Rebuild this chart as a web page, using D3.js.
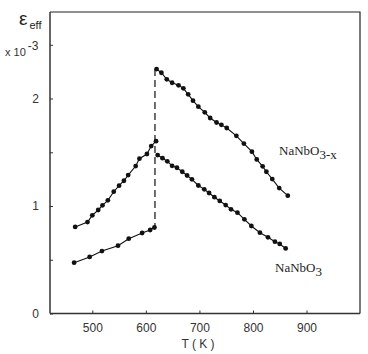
<!DOCTYPE html>
<html>
<head>
<meta charset="utf-8">
<script src="https://cdn.jsdelivr.net/npm/d3@7"></script>
<style>
  body { margin: 0; background: #fff; }
  svg { display: block; }
</style>
</head>
<body>
<svg id="chart" width="368" height="354"></svg>
<script>
// NaNbO3-x, below the transition
var oxRiseT = [468, 491, 500, 511, 519, 529, 540, 550, 559, 567, 581, 588, 602, 610, 619];
var oxRiseE = [0.805, 0.851, 0.913, 0.963, 1.006, 1.053, 1.133, 1.189, 1.235, 1.288, 1.372, 1.440, 1.484, 1.558, 1.603];
// NaNbO3-x, above the transition
var oxFallT = [620, 629, 639, 649, 661, 670, 679, 688, 698, 710, 720, 732, 741, 751, 769, 783, 798, 807, 818, 825, 836, 849, 865];
var oxFallE = [2.274, 2.240, 2.179, 2.147, 2.123, 2.095, 2.039, 1.980, 1.924, 1.872, 1.819, 1.777, 1.755, 1.726, 1.653, 1.581, 1.506, 1.433, 1.369, 1.319, 1.251, 1.167, 1.096];
// NaNbO3, below the transition
var stRiseT = [466, 495, 518, 548, 568, 593, 608, 616];
var stRiseE = [0.473, 0.526, 0.581, 0.631, 0.696, 0.749, 0.777, 0.800];
// NaNbO3, above the transition
var stFallT = [622, 631, 640, 649, 658, 668, 677, 686, 698, 709, 718, 728, 738, 749, 759, 771, 784, 797, 813, 828, 841, 850, 861];
var stFallE = [1.474, 1.445, 1.416, 1.374, 1.356, 1.319, 1.284, 1.248, 1.191, 1.155, 1.121, 1.082, 1.047, 1.009, 0.969, 0.938, 0.876, 0.814, 0.752, 0.709, 0.668, 0.647, 0.605];

var transitionT = 617;
var xTicks = [500, 600, 700, 800, 900];
var yTicks = [0, 0.5, 1, 1.5, 2, 2.5];
var yLabels = [0, 1, 2];

var svg = d3.select("#chart");
var plotL = 50, plotR = 360, plotT = 12, plotB = 313.5;

var x = d3.scaleLinear().domain([421, 1003]).range([plotL, plotR + 1.7]);
var y = d3.scaleLinear().domain([0, 2.805]).range([plotB, plotT]);

var axisCol = "#333";

// frame
svg.append("path")
    .attr("d", "M" + plotL + "," + plotT + "H" + plotR + "V" + plotB)
    .attr("fill", "none").attr("stroke", "#222").attr("stroke-width", 1.2);

// x axis, ticks inward
var xAxis = svg.append("g").attr("transform", "translate(0," + plotB + ")")
    .call(d3.axisBottom(x).tickValues(xTicks).tickSizeInner(-3).tickSizeOuter(0).tickPadding(10));
xAxis.select(".domain").attr("d", "M" + plotL + ",0H" + plotR).attr("stroke", axisCol).attr("stroke-width", 1.5);
xAxis.selectAll("line").attr("stroke", axisCol);
xAxis.selectAll("text").attr("font-family", "Liberation Sans, Arial, sans-serif")
    .attr("font-size", 12).attr("fill", "#333").attr("dy", "0.71em");

// y axis, ticks inward
var yAxis = svg.append("g").attr("transform", "translate(" + plotL + ",0)")
    .call(d3.axisLeft(y).tickValues(yTicks).tickSizeInner(-3).tickSizeOuter(0).tickPadding(11)
        .tickFormat(function(d) { return yLabels.indexOf(d) >= 0 ? d : ""; }));
yAxis.select(".domain").attr("d", "M0," + plotT + "V" + plotB).attr("stroke", axisCol).attr("stroke-width", 1.5);
yAxis.selectAll("line").attr("stroke", axisCol);
yAxis.selectAll("text").attr("font-family", "Liberation Sans, Arial, sans-serif")
    .attr("font-size", 12).attr("fill", "#333");

// axis titles
svg.append("text").attr("x", 198).attr("y", 348).attr("text-anchor", "middle")
    .attr("font-family", "Liberation Sans, Arial, sans-serif").attr("font-size", 12).attr("fill", "#333")
    .text("T ( K )");

var mult = svg.append("text").attr("x", 5).attr("y", 56)
    .attr("font-family", "Liberation Sans, Arial, sans-serif").attr("font-size", 11).attr("fill", "#333");
mult.append("tspan").text("x 10");
mult.append("tspan").attr("dx", 2).attr("dy", -6).attr("font-size", 12).text("-3");

var eps = svg.append("text").attr("x", 19).attr("y", 25)
    .attr("font-family", "Liberation Sans, Arial, sans-serif").attr("fill", "#222");
eps.append("tspan").attr("font-size", 19).text("\u03b5");
eps.append("tspan").attr("dx", 2).attr("dy", 4).attr("font-size", 11).text("eff");

// transition marker
svg.append("line")
    .attr("x1", x(transitionT)).attr("x2", x(transitionT))
    .attr("y1", y(oxFallE[0])).attr("y2", y(stRiseE[stRiseE.length - 1]))
    .attr("stroke", "#111").attr("stroke-width", 1.2).attr("stroke-dasharray", "7,4");

var line = d3.line().x(function(d) { return x(d[0]); }).y(function(d) { return y(d[1]); });

function drawSeries(ts, es) {
    var pts = d3.zip(ts, es);
    svg.append("path").datum(pts).attr("d", line)
        .attr("fill", "none").attr("stroke", "#111").attr("stroke-width", 1.1);
    svg.append("g").selectAll("circle").data(pts).enter().append("circle")
        .attr("cx", function(d) { return x(d[0]); })
        .attr("cy", function(d) { return y(d[1]); })
        .attr("r", 2.4).attr("fill", "#111");
}
drawSeries(oxRiseT, oxRiseE);
drawSeries(oxFallT, oxFallE);
drawSeries(stRiseT, stRiseE);
drawSeries(stFallT, stFallE);

// series labels
function seriesLabel(px, py, main, sub) {
    var t = svg.append("text").attr("x", px).attr("y", py)
        .attr("font-family", "Liberation Serif, Times New Roman, serif").attr("font-size", 13).attr("fill", "#222");
    t.append("tspan").text(main);
    t.append("tspan").attr("dy", 4).text(sub);
}
seriesLabel(279, 155, "NaNbO", "3-x");
seriesLabel(275, 272, "NaNbO", "3");
</script>
</body>
</html>
